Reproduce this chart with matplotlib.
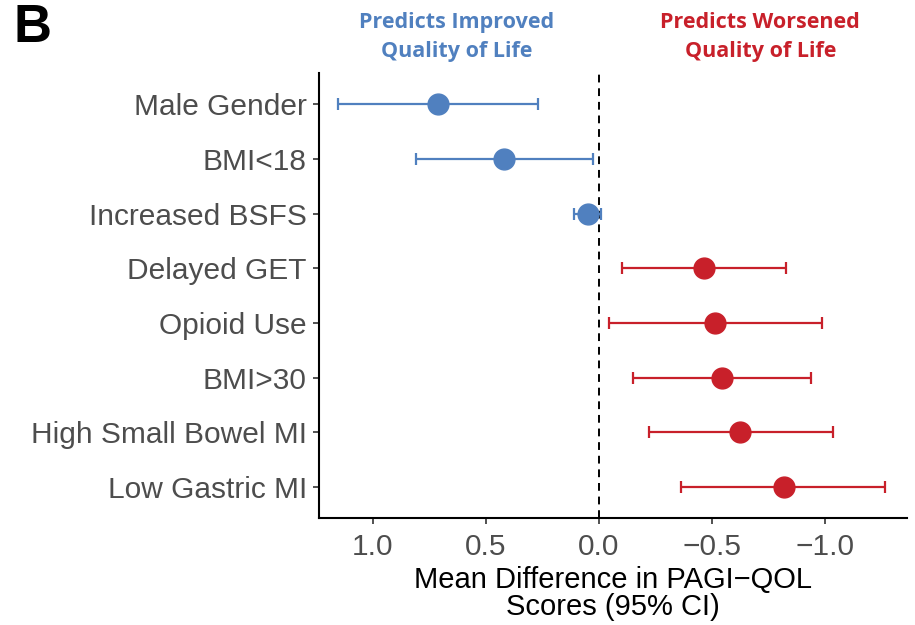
import numpy as np
import matplotlib
matplotlib.use("Agg")
import matplotlib.pyplot as plt

# Predictors, top to bottom
labels = ["Male Gender", "BMI<18", "Increased BSFS", "Delayed GET",
          "Opioid Use", "BMI>30", "High Small Bowel MI", "Low Gastric MI"]
mean_diff = [0.71, 0.42, 0.048, -0.463, -0.512, -0.544, -0.624, -0.816]
ci_low = [0.268, 0.028, -0.011, -0.828, -0.986, -0.936, -1.035, -1.266]
ci_high = [1.151, 0.809, 0.108, -0.101, -0.043, -0.152, -0.222, -0.362]

blue = "#5080BF"
red = "#C8202A"

plt.rcParams['font.family'] = ['Liberation Sans', 'DejaVu Sans']

fig = plt.figure(figsize=(9.15, 6.25), dpi=100)
ax = fig.add_axes([0.349, 0.171, 0.642, 0.712])

y = np.arange(len(labels))
for i in range(len(labels)):
    c = blue if mean_diff[i] > 0 else red
    ax.errorbar(mean_diff[i], y[i],
                xerr=[[mean_diff[i] - ci_low[i]], [ci_high[i] - mean_diff[i]]],
                fmt='o', color=c, ms=15, elinewidth=1.6, capsize=4.5, capthick=1.6,
                zorder=3)

ax.axvline(0, color='black', linestyle=(0, (4, 3)), linewidth=1.4, zorder=2)

ax.set_yticks(y)
ax.set_yticklabels(labels)
ax.set_ylim(len(labels) - 0.43, -0.57)
ax.set_xlim(1.235, -1.36)
ax.set_xticks([1.0, 0.5, 0.0, -0.5, -1.0])
ax.set_xticklabels(["1.0", "0.5", "0.0", "\u22120.5", "\u22121.0"])
ax.tick_params(labelsize=21.5, labelcolor='#4D4D4D', length=4, width=1.2, color='#333333')
ax.tick_params(axis='x', pad=7)
ax.tick_params(axis='y', pad=5)

for s in ['top', 'right']:
    ax.spines[s].set_visible(False)
for s in ['left', 'bottom']:
    ax.spines[s].set_linewidth(1.5)

ax.set_xlabel("Mean Difference in PAGI\u2212QOL\nScores (95% CI)", fontsize=21,
              linespacing=0.97, labelpad=3)

fig.text(0.015, 0.955, "B", fontsize=38, fontweight='bold', va='center', ha='left')

hdr = dict(fontsize=15.5, fontweight='bold', ha='center', va='baseline',
           family=['Open Sans', 'DejaVu Sans'])
fig.text(0.4995, 1 - 28 / 625, "Predicts Improved", color=blue, **hdr)
fig.text(0.4995, 1 - 57 / 625, "Quality of Life", color=blue, **hdr)
fig.text(0.831, 1 - 28 / 625, "Predicts Worsened", color=red, **hdr)
fig.text(0.831, 1 - 57 / 625, "Quality of Life", color=red, **hdr)

fig.savefig("out.png", dpi=100)
